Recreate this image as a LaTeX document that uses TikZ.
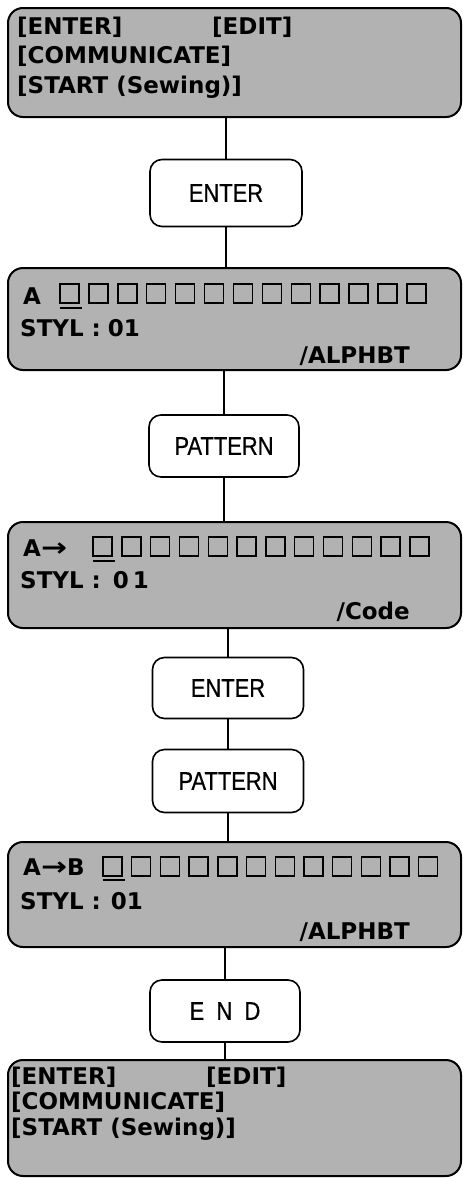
\documentclass[tikz,border=0pt]{standalone}
\usepackage{fontspec}
\newfontfamily\dispfam{DejaVu Sans}
\newfontfamily\btnfam[FakeStretch=0.86,FakeBold=0.6]{Liberation Sans}
\newcommand{\dtxt}{\dispfam\bfseries\fontsize{23}{26}\selectfont}
\newcommand{\btxt}{\btnfam\fontsize{25.5}{28}\selectfont}
\newcommand{\bigarrow}{\scalebox{1.35}[1.1]{→}}
\definecolor{lcdgray}{gray}{0.70}
\tikzset{
  disp/.style={draw=black, line width=2pt, fill=lcdgray, rounded corners=15pt,
    minimum width=453pt, inner sep=0pt},
  btn/.style={draw=black, line width=1.6pt, fill=white, rounded corners=12pt,
    inner sep=0pt, font=\btxt},
  conn/.style={draw=black, line width=1.5pt},
  dtext/.style={inner sep=0pt, font=\dtxt},
  cell/.style={draw=black, line width=1.4pt},
  cursor/.style={draw=black, line width=2pt}
}
\begin{document}
\begin{tikzpicture}[x=1pt,y=-1pt]
\useasboundingbox (0,0) rectangle (463,1178);
\begin{scope}
\clip (0,0) rectangle (463,1178);
% ---------- display 1
\node[disp, minimum height=109pt] (d1) at (234.5,62.5) {};
\node[dtext, anchor=base west] (d1a) at (17,34) {[ENTER]};
\node[dtext, anchor=base west] (d1b) at (212,34) {[EDIT]};
\node[dtext, anchor=base west] (d1c) at (17,63) {[COMMUNICATE]};
\node[dtext, anchor=base west] (d1d) at (17,93) {[START (Sewing)]};
% ---------- ENTER
\node[btn, minimum width=152pt, minimum height=67pt] (e1) at (226,193) {ENTER};
% ---------- display 2
\node[disp, minimum height=102pt] (d2) at (234.5,319) {};
\node[dtext, anchor=base west] (d2a) at (23,304) {A};
\foreach \i in {0,...,12} {
  \draw[cell] ({60+\i*28.9},284) rectangle ++(19,19);
}
\draw[cursor] (60,308) -- (82,308);
\node[dtext, anchor=base west] (d2b) at (20,336) {STYL\hspace{8pt}:\hspace{7pt}01};
\node[dtext, anchor=base east] (d2c) at (410,363) {/ALPHBT};
% ---------- PATTERN
\node[btn, minimum width=150pt, minimum height=62pt] (p1) at (224,446) {PATTERN};
% ---------- display 3
\node[disp, minimum height=106pt] (d3) at (234.5,575) {};
\node[dtext, anchor=base west] (d3a) at (23,556) {A\bigarrow};
\foreach \i in {0,...,11} {
  \draw[cell] ({93+\i*28.8},537) rectangle ++(19,19);
}
\draw[cursor] (93,561) -- (115,561);
\node[dtext, anchor=base west] (d3b) at (20,588) {STYL\hspace{8pt}:\hspace{12pt}0\hspace{4pt}1};
\node[dtext, anchor=base east] (d3c) at (410,619) {/Code};
% ---------- ENTER 2
\node[btn, minimum width=151pt, minimum height=61pt] (e2) at (228,688) {ENTER};
% ---------- PATTERN 2
\node[btn, minimum width=151pt, minimum height=63pt] (p2) at (228,781) {PATTERN};
% ---------- display 4
\node[disp, minimum height=105pt] (d4) at (234.5,894.5) {};
\node[dtext, anchor=base west] (d4a) at (23,875) {A\bigarrow B};
\foreach \i in {0,...,11} {
  \draw[cell] ({103+\i*28.7},857) rectangle ++(19,19);
}
\draw[cursor] (103,880) -- (125,880);
\node[dtext, anchor=base west] (d4b) at (20,909) {STYL\hspace{8pt}:\hspace{10pt}01};
\node[dtext, anchor=base east] (d4c) at (410,939) {/ALPHBT};
% ---------- END
\node[btn, minimum width=150pt, minimum height=62pt] (en) at (225,1011) {E\ \ N\ \ D};
% ---------- display 5
\node[disp, minimum height=116pt] (d5) at (234.5,1118) {};
\node[dtext, anchor=base west] (d5a) at (11,1084) {[ENTER]};
\node[dtext, anchor=base west] (d5b) at (206,1084) {[EDIT]};
\node[dtext, anchor=base west] (d5c) at (11,1109) {[COMMUNICATE]};
\node[dtext, anchor=base west] (d5d) at (11,1135) {[START (Sewing)]};
% ---------- connectors
\draw[conn] (e1.north) -- (e1.north |- d1.south);
\draw[conn] (e1.south) -- (e1.south |- d2.north);
\draw[conn] (p1.north) -- (p1.north |- d2.south);
\draw[conn] (p1.south) -- (p1.south |- d3.north);
\draw[conn] (e2.north) -- (e2.north |- d3.south);
\draw[conn] (e2.south) -- (p2.north);
\draw[conn] (p2.south) -- (p2.south |- d4.north);
\draw[conn] (en.north) -- (en.north |- d4.south);
\draw[conn] (en.south) -- (en.south |- d5.north);
\end{scope}
\end{tikzpicture}
\end{document}
